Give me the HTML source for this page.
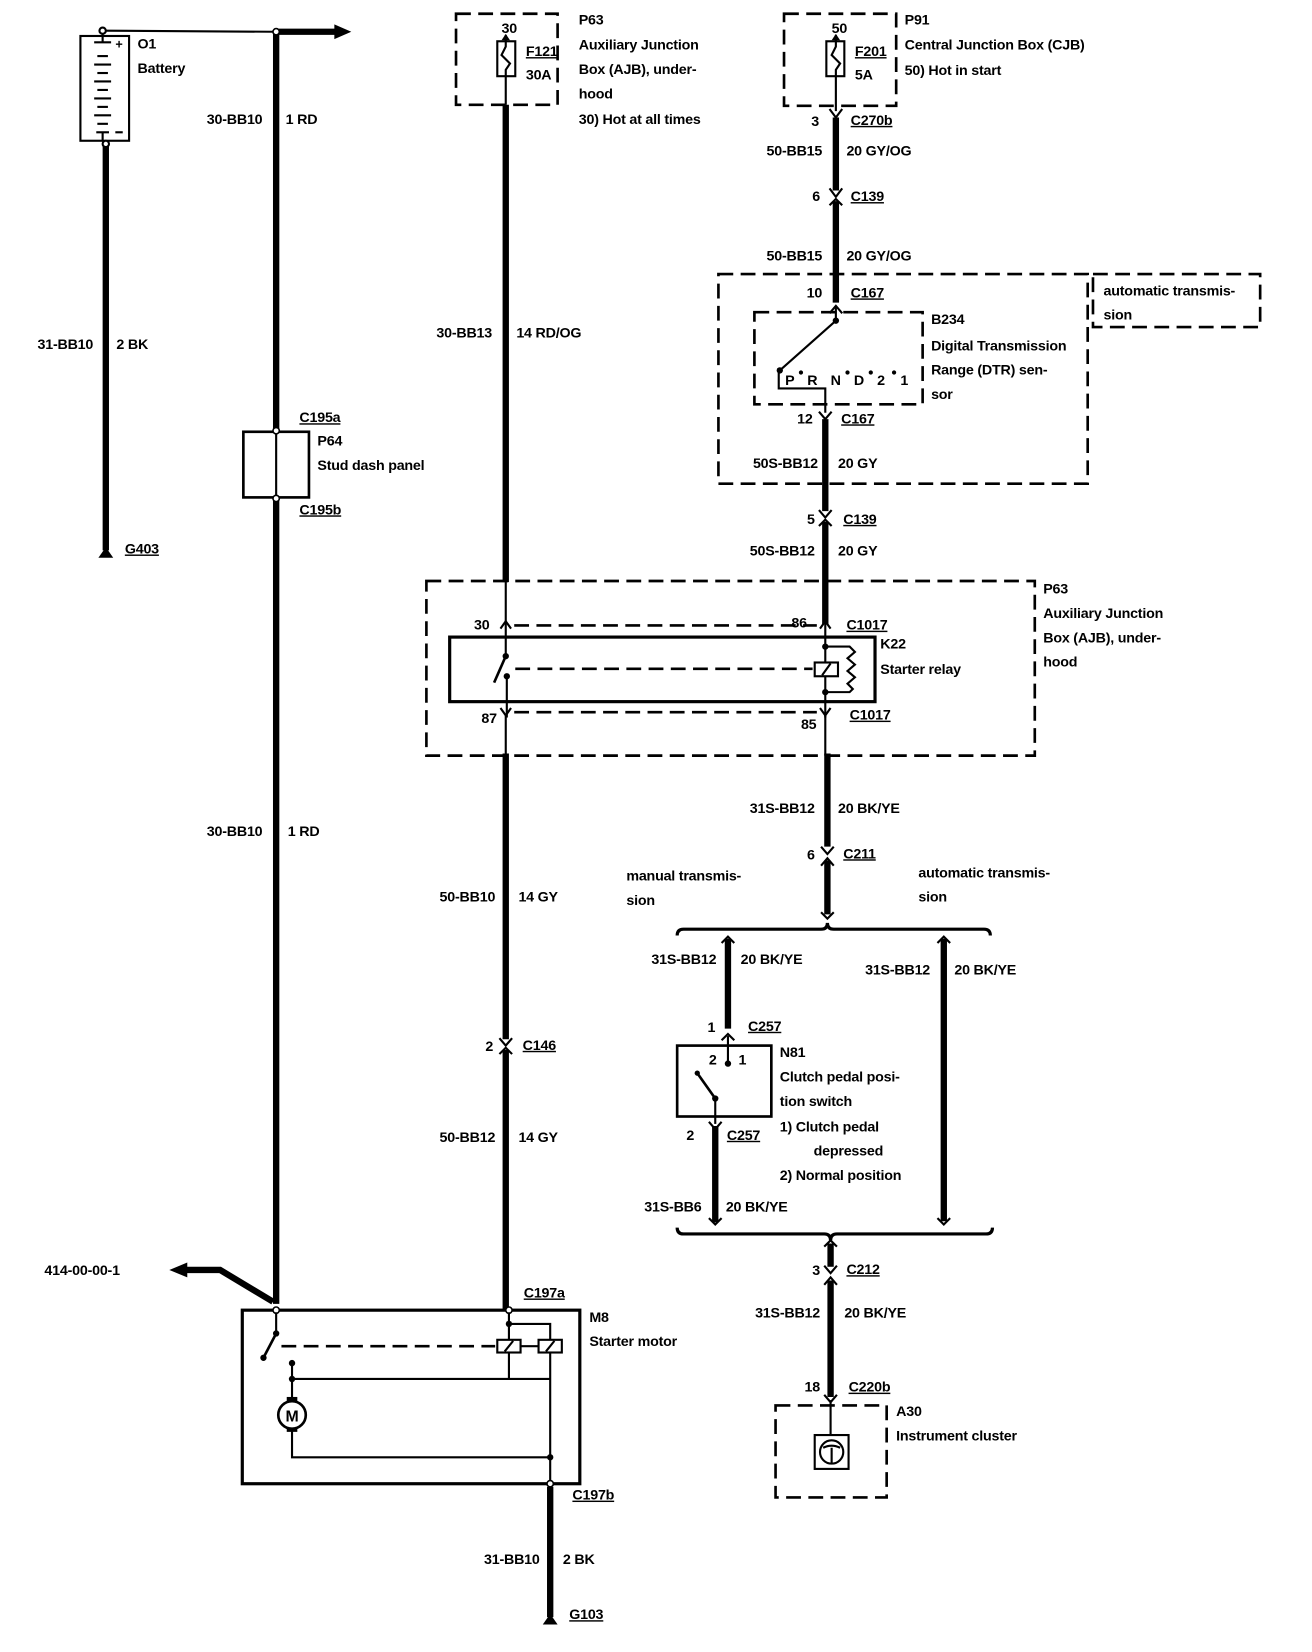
<!DOCTYPE html>
<html><head><meta charset="utf-8"><style>
html,body{margin:0;padding:0;background:#fff;}
svg{display:block;}
text{font-family:"Liberation Sans Narrow","Liberation Sans",sans-serif;font-weight:bold;font-size:13.5px;letter-spacing:-0.2px;fill:#000;}
.u{text-decoration:underline;}
.r{text-anchor:end;}
.w{stroke:#000;stroke-width:6;fill:none;}
.t{stroke:#000;stroke-width:2;fill:none;}
.d{stroke:#000;stroke-width:2.5;fill:none;stroke-dasharray:14,7;}
.c{stroke:#000;stroke-width:2;fill:none;}
</style></head><body>
<svg width="1312" height="1652" viewBox="0 0 1240 1561" preserveAspectRatio="none" xmlns="http://www.w3.org/2000/svg">
<rect x="0" y="0" width="1240" height="1561" fill="#fff"/>

<!-- Battery -->
<rect x="76" y="34" width="46" height="99" class="t" stroke-width="3"/>
<circle cx="97" cy="29" r="3" class="t" fill="#fff"/>
<line x1="100" y1="29" x2="258" y2="30" class="t"/>
<g stroke="#000" stroke-width="2">
<line x1="97" y1="32" x2="97" y2="40"/><line x1="89" y1="40" x2="105" y2="40"/>
<line x1="92" y1="53" x2="102" y2="53"/><line x1="89" y1="61" x2="105" y2="61"/>
<line x1="92" y1="69" x2="102" y2="69"/><line x1="89" y1="77" x2="105" y2="77"/>
<line x1="92" y1="85" x2="102" y2="85"/><line x1="89" y1="93" x2="105" y2="93"/>
<line x1="92" y1="101" x2="102" y2="101"/><line x1="89" y1="109" x2="105" y2="109"/>
<line x1="92" y1="117" x2="102" y2="117"/><line x1="91" y1="125" x2="103" y2="125"/><line x1="97" y1="125" x2="97" y2="133"/>
</g>
<text x="109" y="46" style="font-size:12px">+</text>
<line x1="109" y1="125" x2="116" y2="125" stroke="#000" stroke-width="2"/>
<text x="130" y="46">O1</text>
<text x="130" y="69">Battery</text>
<line x1="100" y1="133" x2="100" y2="520" class="w"/>
<circle cx="100" cy="136" r="3" fill="#fff" stroke="#000" stroke-width="2"/>
<text x="88" y="330" class="r">31-BB10</text>
<text x="110" y="330">2 BK</text>
<path d="M93 527 L100 517 L107 527 Z" fill="#000"/>
<text x="118" y="523" class="u">G403</text>

<!-- Wire 30-BB10 -->
<line x1="261" y1="30" x2="261" y2="1232" class="w"/>
<line x1="261" y1="30" x2="318" y2="30" class="w"/>
<path d="M316 23 L332 30 L316 37 Z" fill="#000"/>
<circle cx="261" cy="30" r="3" fill="#fff" stroke="#000" stroke-width="1.5"/>
<text x="248" y="117" class="r">30-BB10</text>
<text x="270" y="117">1 RD</text>
<rect x="230" y="408" width="62" height="62" fill="#fff" stroke="#000" stroke-width="2.5"/>
<line x1="261" y1="408" x2="261" y2="470" stroke="#000" stroke-width="2"/>
<circle cx="261" cy="407" r="3" fill="#fff" stroke="#000" stroke-width="1.5"/>
<circle cx="261" cy="471" r="3" fill="#fff" stroke="#000" stroke-width="1.5"/>
<text x="283" y="399" class="u">C195a</text>
<text x="300" y="421">P64</text>
<text x="300" y="444">Stud dash panel</text>
<text x="283" y="486" class="u">C195b</text>
<text x="248" y="790" class="r">30-BB10</text>
<text x="272" y="790">1 RD</text>

<!-- P63 top fuse box -->
<path d="M431 13 H527 V99 H431 Z" class="d"/>
<rect x="470" y="39" width="17" height="33" fill="#fff" stroke="#000" stroke-width="2"/>
<path d="M478 33 V44 L474 52 L482 60 L478 66 V99" class="t"/>
<path d="M474 38 L478 32 L482 38" fill="#000"/>
<text x="474" y="31">30</text>
<text x="497" y="53" class="u">F121</text>
<text x="497" y="75">30A</text>
<text x="547" y="23">P63</text>
<text x="547" y="47">Auxiliary Junction</text>
<text x="547" y="70">Box (AJB), under-</text>
<text x="547" y="93">hood</text>
<text x="547" y="117">30)   Hot at all times</text>
<line x1="478" y1="99" x2="478" y2="550" class="w"/>
<text x="465" y="319" class="r">30-BB13</text>
<text x="488" y="319">14 RD/OG</text>

<!-- P91 -->
<path d="M741 13 H847 V100 H741 Z" class="d"/>
<rect x="781" y="39" width="17" height="33" fill="#fff" stroke="#000" stroke-width="2"/>
<path d="M790 33 V44 L786 52 L794 60 L790 66 V105" class="t"/>
<path d="M786 38 L790 32 L794 38" fill="#000"/>
<text x="786" y="31">50</text>
<text x="808" y="53" class="u">F201</text>
<text x="808" y="75">5A</text>
<text x="855" y="23">P91</text>
<text x="855" y="47">Central Junction Box (CJB)</text>
<text x="855" y="71">50)   Hot in start</text>
<path d="M784 103 L790 111 L796 103" class="c"/>
<line x1="790" y1="111" x2="790" y2="180" class="w"/>
<text x="774" y="119" class="r">3</text>
<text x="804" y="118" class="u">C270b</text>
<text x="777" y="147" class="r">50-BB15</text>
<text x="800" y="147">20 GY/OG</text>
<path d="M784 178 L790 186 L796 178 M784 194 L790 188 L796 194" class="c"/>
<line x1="790" y1="190" x2="790" y2="286" class="w"/>
<text x="775" y="190" class="r">6</text>
<text x="804" y="190" class="u">C139</text>
<text x="777" y="246" class="r">50-BB15</text>
<text x="800" y="246">20 GY/OG</text>

<!-- DTR box -->
<path d="M679 259 H1028 V457 H679 Z" class="d"/>
<path d="M1033 259 H1191 V309 H1033 Z" class="d"/>
<text x="1043" y="279">automatic transmis-</text>
<text x="1043" y="302">sion</text>
<text x="777" y="281" class="r">10</text>
<text x="804" y="281" class="u">C167</text>
<path d="M784 296 L790 289 L796 296" class="c"/>
<path d="M713 295 H872 V382 H713 Z" class="d"/>
<line x1="790" y1="290" x2="790" y2="303" class="t"/>
<circle cx="790" cy="303" r="3" fill="#000"/>
<line x1="790" y1="303" x2="737" y2="350" class="t"/>
<circle cx="737" cy="350" r="3" fill="#000"/>
<path d="M736 352 V367 H780 V390" class="t"/>
<text x="742" y="364">P</text>
<circle cx="757" cy="352" r="2" fill="#000"/>
<text x="763" y="364">R</text>
<text x="785" y="364">N</text>
<circle cx="801" cy="352" r="2" fill="#000"/>
<text x="807" y="364">D</text>
<circle cx="823" cy="352" r="2" fill="#000"/>
<text x="829" y="364">2</text>
<circle cx="845" cy="352" r="2" fill="#000"/>
<text x="851" y="364">1</text>
<text x="880" y="306">B234</text>
<text x="880" y="331">Digital Transmission</text>
<text x="880" y="354">Range (DTR) sen-</text>
<text x="880" y="377">sor</text>
<path d="M774 389 L780 396 L786 389" class="c"/>
<line x1="780" y1="396" x2="780" y2="483" class="w"/>
<text x="768" y="400" class="r">12</text>
<text x="795" y="400" class="u">C167</text>
<text x="773" y="442" class="r">50S-BB12</text>
<text x="792" y="442">20 GY</text>
<path d="M774 482 L780 489 L786 482 M774 497 L780 491 L786 497" class="c"/>
<line x1="780" y1="493" x2="780" y2="590" class="w"/>
<text x="770" y="495" class="r">5</text>
<text x="797" y="495" class="u">C139</text>
<text x="770" y="525" class="r">50S-BB12</text>
<text x="792" y="525">20 GY</text>

<!-- P63 relay box -->
<path d="M403 549 H978 V714 H403 Z" class="d"/>
<text x="986" y="561">P63</text>
<text x="986" y="584">Auxiliary Junction</text>
<text x="986" y="607">Box (AJB), under-</text>
<text x="986" y="630">hood</text>
<line x1="478" y1="550" x2="478" y2="587" stroke="#000" stroke-width="2"/>
<path d="M473 594 L478 587 L483 594" class="c"/>
<line x1="486" y1="591" x2="772" y2="591" class="d" stroke-width="2"/>
<path d="M775 594 L780 587 L785 594" class="c"/>
<text x="448" y="595">30</text>
<text x="748" y="593">86</text>
<text x="800" y="595" class="u">C1017</text>
<rect x="425" y="602" width="402" height="61" fill="none" stroke="#000" stroke-width="3"/>
<line x1="478" y1="588" x2="478" y2="620" stroke="#000" stroke-width="2"/>
<circle cx="478" cy="620" r="3" fill="#000"/>
<line x1="478" y1="620" x2="467" y2="645" stroke="#000" stroke-width="2.5"/>
<circle cx="479" cy="639" r="3" fill="#000"/>
<line x1="479" y1="639" x2="479" y2="678" stroke="#000" stroke-width="2"/>
<line x1="487" y1="632" x2="768" y2="632" class="d" stroke-width="2"/>
<line x1="780" y1="588" x2="780" y2="678" stroke="#000" stroke-width="2"/>
<circle cx="780" cy="611" r="3" fill="#000"/>
<circle cx="780" cy="654" r="3" fill="#000"/>
<rect x="770" y="626" width="22" height="13" fill="#fff" stroke="#000" stroke-width="2"/>
<line x1="777" y1="638" x2="785" y2="627" stroke="#000" stroke-width="2"/>
<path d="M780 611 H803 L808 616 L801 622 L808 628 L801 634 L808 640 L801 646 L806 651 L803 654 H780" class="t"/>
<text x="832" y="613">K22</text>
<text x="832" y="637">Starter relay</text>
<path d="M473 669 L478 676 L483 669" class="c"/>
<line x1="486" y1="673" x2="772" y2="673" class="d" stroke-width="2"/>
<path d="M775 669 L780 676 L785 669" class="c"/>
<text x="455" y="683">87</text>
<text x="757" y="689">85</text>
<text x="803" y="680" class="u">C1017</text>
<line x1="478" y1="676" x2="478" y2="714" stroke="#000" stroke-width="2"/>
<line x1="780" y1="676" x2="780" y2="714" stroke="#000" stroke-width="2"/>

<!-- 50-BB10 wire down -->
<line x1="478" y1="712" x2="478" y2="982" class="w"/>
<text x="468" y="852" class="r">50-BB10</text>
<text x="490" y="852">14 GY</text>
<path d="M472 981 L478 988 L484 981 M472 996 L478 990 L484 996" class="c"/>
<line x1="478" y1="992" x2="478" y2="1238" class="w"/>
<text x="466" y="993" class="r">2</text>
<text x="494" y="992" class="u">C146</text>
<text x="468" y="1079" class="r">50-BB12</text>
<text x="490" y="1079">14 GY</text>
<text x="495" y="1226" class="u">C197a</text>

<!-- right lower wire -->
<line x1="782" y1="712" x2="782" y2="800" class="w"/>
<text x="770" y="768" class="r">31S-BB12</text>
<text x="792" y="768">20 BK/YE</text>
<path d="M776 800 L782 807 L788 800 M776 818 L782 811 L788 818" class="c"/>
<line x1="782" y1="813" x2="782" y2="864" class="w"/>
<path d="M776 862 L782 868 L788 862" class="c"/>
<text x="770" y="812" class="r">6</text>
<text x="797" y="811" class="u">C211</text>
<text x="592" y="832">manual transmis-</text>
<text x="592" y="855">sion</text>
<text x="868" y="829">automatic transmis-</text>
<text x="868" y="852">sion</text>
<path d="M640 884 Q640 878 646 878 H776 Q782 878 782 872 Q782 878 788 878 H930 Q936 878 936 884" fill="none" stroke="#000" stroke-width="3"/>

<path d="M682 891 L688 885 L694 891" class="c"/>
<line x1="688" y1="887" x2="688" y2="972" class="w"/>
<text x="677" y="911" class="r">31S-BB12</text>
<text x="700" y="911">20 BK/YE</text>
<path d="M886 891 L892 885 L898 891" class="c"/>
<line x1="892" y1="887" x2="892" y2="1154" class="w"/>
<path d="M886 1151 L892 1157 L898 1151" class="c"/>
<text x="879" y="921" class="r">31S-BB12</text>
<text x="902" y="921">20 BK/YE</text>
<path d="M682 983 L688 977 L694 983" class="c"/>
<line x1="688" y1="979" x2="688" y2="1005" stroke="#000" stroke-width="2"/>
<circle cx="688" cy="1005" r="3" fill="#000"/>
<text x="676" y="975" class="r">1</text>
<text x="707" y="974" class="u">C257</text>
<rect x="640" y="988" width="89" height="67" fill="none" stroke="#000" stroke-width="2.5"/>
<text x="670" y="1006">2</text>
<text x="698" y="1006">1</text>
<circle cx="659" cy="1014" r="2.5" fill="#000"/>
<line x1="659" y1="1014" x2="676" y2="1038" stroke="#000" stroke-width="2.5"/>
<circle cx="676" cy="1038" r="3" fill="#000"/>
<line x1="676" y1="1038" x2="676" y2="1062" stroke="#000" stroke-width="2"/>
<text x="737" y="999">N81</text>
<text x="737" y="1022">Clutch pedal posi-</text>
<text x="737" y="1045">tion switch</text>
<text x="737" y="1069">1)     Clutch pedal</text>
<text x="769" y="1092">depressed</text>
<text x="737" y="1115">2)     Normal position</text>
<path d="M670 1060 L676 1067 L682 1060" class="c"/>
<line x1="676" y1="1064" x2="676" y2="1155" class="w"/>
<path d="M670 1151 L676 1157 L682 1151" class="c"/>
<text x="656" y="1077" class="r">2</text>
<text x="687" y="1077" class="u">C257</text>
<text x="663" y="1145" class="r">31S-BB6</text>
<text x="686" y="1145">20 BK/YE</text>
<path d="M640 1160 Q640 1166 646 1166 H779 Q785 1166 785 1172 Q785 1166 791 1166 H932 Q938 1166 938 1160" fill="none" stroke="#000" stroke-width="3"/>
<path d="M779 1178 L785 1172 L791 1178" class="c"/>
<line x1="785" y1="1175" x2="785" y2="1197" class="w"/>
<path d="M779 1196 L785 1203 L791 1196 M779 1214 L785 1207 L791 1214" class="c"/>
<line x1="785" y1="1210" x2="785" y2="1320" class="w"/>
<path d="M779 1318 L785 1325 L791 1318" class="c"/>
<text x="775" y="1205" class="r">3</text>
<text x="800" y="1204" class="u">C212</text>
<text x="775" y="1245" class="r">31S-BB12</text>
<text x="798" y="1245">20 BK/YE</text>
<text x="775" y="1315" class="r">18</text>
<text x="802" y="1315" class="u">C220b</text>
<path d="M733 1328 H838 V1415 H733 Z" class="d"/>
<line x1="785" y1="1323" x2="785" y2="1356" stroke="#000" stroke-width="2"/>
<rect x="770" y="1356" width="32" height="32" fill="none" stroke="#000" stroke-width="2"/>
<circle cx="786" cy="1372" r="11" fill="none" stroke="#000" stroke-width="2"/>
<path d="M778 1368 Q786 1364 794 1368 M786 1368 V1383" class="t"/>
<text x="847" y="1338">A30</text>
<text x="847" y="1361">Instrument cluster</text>

<!-- 414 arrow -->
<text x="42" y="1205">414-00-00-1</text>
<path d="M258 1230 L208 1200 H175" fill="none" stroke="#000" stroke-width="6"/>
<path d="M177 1193 L160 1200 L177 1207 Z" fill="#000"/>

<!-- M8 -->
<rect x="229" y="1238" width="319" height="164" fill="none" stroke="#000" stroke-width="3"/>
<text x="557" y="1249">M8</text>
<text x="557" y="1272">Starter motor</text>
<circle cx="261" cy="1238" r="3" fill="#fff" stroke="#000" stroke-width="1.5"/>
<line x1="261" y1="1240" x2="261" y2="1260" stroke="#000" stroke-width="2"/>
<circle cx="261" cy="1260" r="3" fill="#000"/>
<line x1="261" y1="1260" x2="249" y2="1283" stroke="#000" stroke-width="2.5"/>
<circle cx="249" cy="1283" r="3" fill="#000"/>
<line x1="266" y1="1272" x2="468" y2="1272" class="d" stroke-width="2"/>
<rect x="470" y="1266" width="22" height="12" fill="#fff" stroke="#000" stroke-width="2"/>
<line x1="477" y1="1277" x2="485" y2="1267" stroke="#000" stroke-width="2"/>
<line x1="492" y1="1272" x2="509" y2="1272" stroke="#000" stroke-width="2"/>
<rect x="509" y="1266" width="22" height="12" fill="#fff" stroke="#000" stroke-width="2"/>
<line x1="516" y1="1277" x2="524" y2="1267" stroke="#000" stroke-width="2"/>
<circle cx="481" cy="1238" r="3" fill="#fff" stroke="#000" stroke-width="1.5"/>
<line x1="481" y1="1240" x2="481" y2="1266" stroke="#000" stroke-width="2"/>
<circle cx="481" cy="1251" r="3" fill="#000"/>
<path d="M481 1251 H520 V1266" class="t"/>
<line x1="481" y1="1278" x2="481" y2="1303" stroke="#000" stroke-width="2"/>
<line x1="520" y1="1278" x2="520" y2="1402" stroke="#000" stroke-width="2"/>
<circle cx="276" cy="1288" r="3" fill="#000"/>
<line x1="276" y1="1288" x2="276" y2="1322" stroke="#000" stroke-width="2"/>
<circle cx="276" cy="1303" r="3" fill="#000"/>
<line x1="276" y1="1303" x2="520" y2="1303" stroke="#000" stroke-width="2"/>
<rect x="271" y="1320" width="10" height="6" fill="#000"/>
<rect x="271" y="1347" width="10" height="6" fill="#000"/>
<circle cx="276" cy="1337" r="13" fill="#fff" stroke="#000" stroke-width="2.5"/>
<text x="276" y="1343" text-anchor="middle" style="font-size:15px">M</text>
<path d="M276 1352 V1377 H520" class="t"/>
<circle cx="520" cy="1377" r="3" fill="#000"/>
<circle cx="520" cy="1402" r="3" fill="#fff" stroke="#000" stroke-width="1.5"/>
<line x1="520" y1="1405" x2="520" y2="1528" class="w"/>
<text x="541" y="1417" class="u">C197b</text>
<text x="510" y="1478" class="r">31-BB10</text>
<text x="532" y="1478">2 BK</text>
<path d="M513 1535 L520 1525 L527 1535 Z" fill="#000"/>
<text x="538" y="1530" class="u">G103</text>
</svg>
</body></html>
